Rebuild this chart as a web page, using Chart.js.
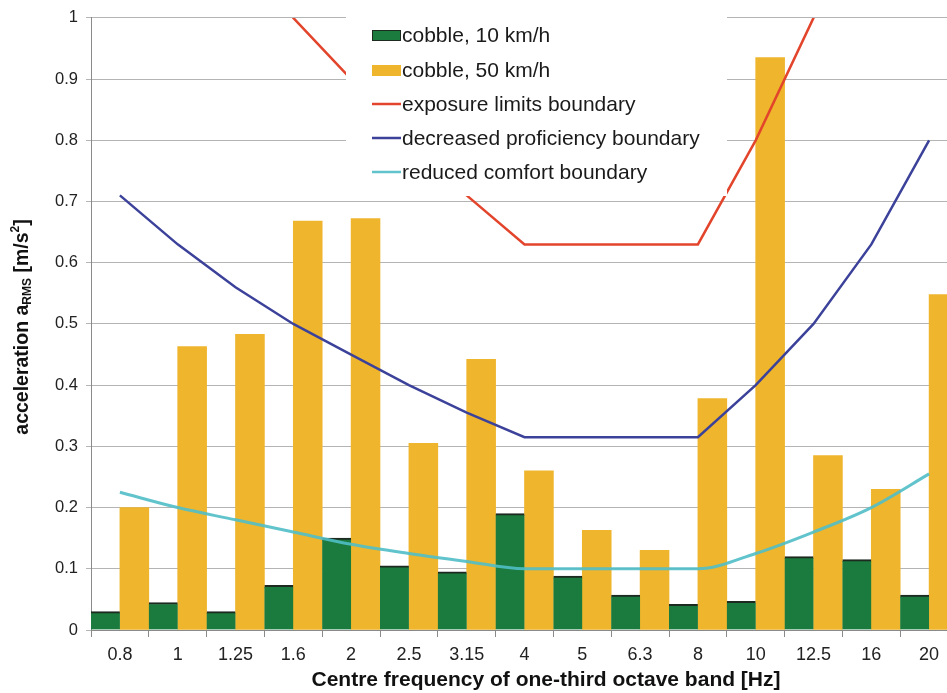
<!DOCTYPE html>
<html>
<head>
<meta charset="utf-8">
<script src="https://cdn.jsdelivr.net/npm/chart.js@4.4.0/dist/chart.umd.min.js"></script>
<style>
  html, body { margin: 0; padding: 0; background: #fff; overflow: hidden; }
  #wrap { width: 947px; height: 693px; overflow: hidden; position: relative; }
  #box { width: 960px; height: 693px; position: absolute; left: 0; top: 0; }
</style>
</head>
<body>
<div id="wrap"><div id="box"><canvas id="myChart"></canvas></div></div>
<script>
// centre frequencies of the one-third octave bands [Hz]
const bands = ['0.8', '1', '1.25', '1.6', '2', '2.5', '3.15', '4', '5', '6.3', '8', '10', '12.5', '16', '20']

// measured RMS acceleration [m/s2]
const cobble10 = [0.03, 0.045, 0.03, 0.073, 0.15, 0.105, 0.095, 0.19, 0.088, 0.057, 0.042, 0.047, 0.12, 0.115, 0.057]
const cobble50 = [0.2, 0.463, 0.483, 0.668, 0.672, 0.305, 0.442, 0.26, 0.163, 0.13, 0.378, 0.935, 0.285, 0.23, 0.548]

// boundaries
const exposureLimits = [1.42, 1.26, 1.12, 1.0, 0.9, 0.8, 0.71, 0.63, 0.63, 0.63, 0.63, 0.8, 1.0, 1.26, 1.6]
const decreasedProficiency = [0.71, 0.63, 0.56, 0.5, 0.45, 0.4, 0.355, 0.315, 0.315, 0.315, 0.315, 0.4, 0.5, 0.63, 0.8]
const reducedComfort = [0.225, 0.2, 0.18, 0.16, 0.14, 0.125, 0.112, 0.1, 0.1, 0.1, 0.1, 0.125, 0.16, 0.2, 0.255]

const yTicks = [0, 0.1, 0.2, 0.3, 0.4, 0.5, 0.6, 0.7, 0.8, 0.9, 1]

const FONT = 'Arial, "Liberation Sans", sans-serif'

// legend drawn inside the plot area on a white box
const legendBox = {
    id: 'legendBox',
    afterDraw(chart) {
        const ctx = chart.ctx
        ctx.save()
        ctx.fillStyle = '#ffffff'
        ctx.fillRect(346, 16, 381, 180)
        const items = ['cobble10', 'cobble50', 'exposure', 'proficiency', 'comfort']
        const rows = [35, 70, 104, 138, 172]
        ctx.font = '21px ' + FONT
        ctx.textBaseline = 'middle'
        items.forEach(function (key, i) {
            const ds = chart.data.datasets.find(d => d.key == key)
            const y = rows[i]
            if (ds.type == 'line') {
                ctx.strokeStyle = ds.borderColor
                ctx.lineWidth = 2.5
                ctx.beginPath()
                ctx.moveTo(372, y)
                ctx.lineTo(401, y)
                ctx.stroke()
            } else {
                ctx.fillStyle = ds.backgroundColor
                ctx.fillRect(372, y - 5, 29, 11)
                if (key == 'cobble10') {
                    ctx.strokeStyle = '#1d2a20'
                    ctx.lineWidth = 1
                    ctx.strokeRect(372.5, y - 4.5, 28, 10)
                }
            }
            ctx.fillStyle = '#1a1a1a'
            ctx.fillText(ds.label, 402, y + 1)
        })
        ctx.restore()
    }
}

// axis titles: rotated y title with subscript / superscript, x title
const axisTitles = {
    id: 'axisTitles',
    afterDraw(chart) {
        const ctx = chart.ctx
        const parts = [
            { t: 'acceleration a', f: 'bold 19.5px ' + FONT, dy: 0 },
            { t: 'RMS', f: 'bold 12px ' + FONT, dy: 5 },
            { t: ' [m/s', f: 'bold 19.5px ' + FONT, dy: 0 },
            { t: '2', f: 'bold 12px ' + FONT, dy: -7 },
            { t: ']', f: 'bold 19.5px ' + FONT, dy: 0 }
        ]
        ctx.save()
        ctx.fillStyle = '#111'
        ctx.textBaseline = 'middle'

        ctx.font = 'bold 21px ' + FONT
        ctx.textAlign = 'center'
        ctx.fillText('Centre frequency of one-third octave band [Hz]', 546, 680)
        ctx.textAlign = 'left'

        let total = 0
        parts.forEach(p => { ctx.font = p.f; total += ctx.measureText(p.t).width })
        ctx.translate(22, 327)
        ctx.rotate(-Math.PI / 2)
        let x = -total / 2
        parts.forEach(p => {
            ctx.font = p.f
            ctx.fillText(p.t, x, p.dy + 1)
            x += ctx.measureText(p.t).width
        })
        ctx.restore()
    }
}

const ctx = document.getElementById('myChart')
const myChart = new Chart(ctx, {
    type: 'bar',
    data: {
        labels: bands,
        datasets: [
            {
                key: 'cobble10', label: 'cobble, 10 km/h', data: cobble10,
                backgroundColor: '#1b7a3d', borderColor: '#1d2a20',
                borderWidth: { top: 2, left: 0, right: 0, bottom: 0 }, borderSkipped: false,
                categoryPercentage: 1.0, barPercentage: 1.0, order: 2
            },
            {
                key: 'cobble50', label: 'cobble, 50 km/h', data: cobble50,
                backgroundColor: '#efb52c', borderWidth: 0,
                categoryPercentage: 1.0, barPercentage: 1.0, order: 2
            },
            {
                key: 'exposure', type: 'line', label: 'exposure limits boundary', data: exposureLimits,
                borderColor: '#e2452c', borderWidth: 2.5, pointRadius: 0, tension: 0, order: 1
            },
            {
                key: 'proficiency', type: 'line', label: 'decreased proficiency boundary', data: decreasedProficiency,
                borderColor: '#3c429a', borderWidth: 2.5, pointRadius: 0, tension: 0, order: 1
            },
            {
                key: 'comfort', type: 'line', label: 'reduced comfort boundary', data: reducedComfort,
                borderColor: 'rgba(80,190,198,0.9)', borderWidth: 3, pointRadius: 0,
                cubicInterpolationMode: 'monotone', order: 1
            }
        ]
    },
    options: {
        responsive: true,
        maintainAspectRatio: false,
        animation: false,
        layout: { padding: { left: 0, right: 2, top: 14, bottom: 0 } },
        plugins: {
            legend: { display: false },
            tooltip: { enabled: false }
        },
        scales: {
            x: {
                offset: true,
                grid: { display: true, drawOnChartArea: false, offset: true, tickLength: 7, color: '#8a8a8a' },
                border: { color: '#8a8a8a', width: 1 },
                ticks: { color: '#222', font: { size: 18, family: FONT }, padding: 7, maxRotation: 0, autoSkip: false },
                title: { display: false },
                afterFit: s => { s.height = 63 }
            },
            y: {
                min: 0, max: 1,
                afterBuildTicks: s => { s.ticks = yTicks.map(v => ({ value: v })) },
                grid: { color: '#b4b4b4', tickLength: 5, lineWidth: 1 },
                border: { color: '#8a8a8a', width: 1 },
                ticks: { color: '#222', font: { size: 16.5, family: FONT }, padding: 8, callback: v => String(v) },
                afterFit: s => { s.width = 91 }
            }
        }
    },
    plugins: [legendBox, axisTitles]
})
</script>
</body>
</html>
